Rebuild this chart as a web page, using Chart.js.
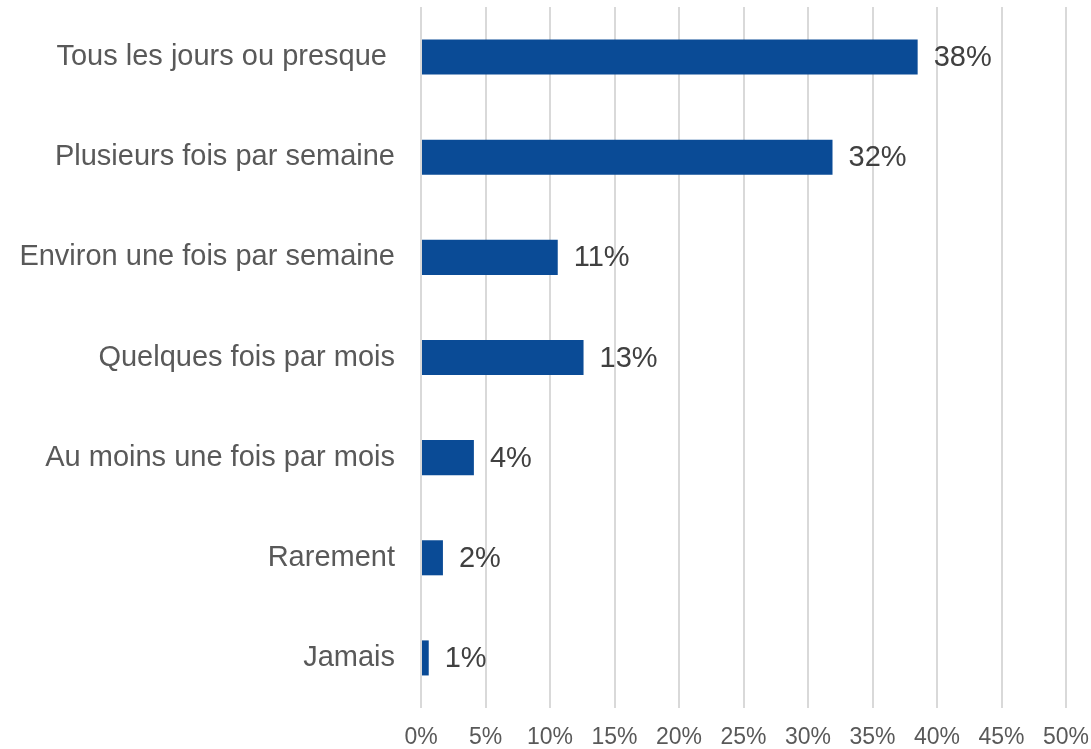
<!DOCTYPE html>
<html>
<head>
<meta charset="utf-8">
<script src="https://cdn.jsdelivr.net/npm/chart.js@4"></script>
<style>
  html, body { margin: 0; padding: 0; background: #fff; }
  #wrap { width: 1091px; height: 749px; }
</style>
</head>
<body>
<div id="wrap"><canvas id="chart"></canvas></div>
<script>
const categories = [
    'Tous les jours ou presque ',
    'Plusieurs fois par semaine',
    'Environ une fois par semaine',
    'Quelques fois par mois',
    'Au moins une fois par mois',
    'Rarement',
    'Jamais'
];
const shares = [38.5, 31.9, 10.6, 12.6, 4.1, 1.7, 0.6];
const shareLabels = ['38%', '32%', '11%', '13%', '4%', '2%', '1%'];

const FONT = '"Liberation Sans", Arial, sans-serif';

// draws the "38%" style labels at the end of each bar
const barValueLabels = {
    id: 'barValueLabels',
    afterDatasetsDraw(chart) {
        const ctx = chart.ctx;
        const meta = chart.getDatasetMeta(0);
        ctx.save();
        ctx.font = '29px ' + FONT;
        ctx.fillStyle = '#404040';
        ctx.textAlign = 'left';
        ctx.textBaseline = 'middle';
        meta.data.forEach((bar, i) => {
            ctx.fillText(shareLabels[i], bar.x + 16, bar.y + 1);
        });
        ctx.restore();
    }
};

const ctx = document.getElementById('chart').getContext('2d');
new Chart(ctx, {
    type: 'bar',
    data: {
        labels: categories,
        datasets: [{
            data: shares,
            backgroundColor: '#0a4b96',
            barPercentage: 0.35,
            categoryPercentage: 1
        }]
    },
    options: {
        indexAxis: 'y',
        responsive: true,
        maintainAspectRatio: false,
        animation: false,
        layout: { padding: { top: 7, right: 25, bottom: 0, left: 0 } },
        plugins: {
            legend: { display: false },
            tooltip: { enabled: false }
        },
        scales: {
            x: {
                min: 0,
                max: 50,
                ticks: {
                    stepSize: 5,
                    padding: 16,
                    color: '#595959',
                    font: { family: FONT, size: 23 },
                    callback: v => v + '%'
                },
                grid: { color: '#d9d9d9', lineWidth: 2, drawTicks: false },
                border: { display: false },
                afterFit: scale => {
                    scale.height = 41;
                    scale.paddingLeft = 0;
                    scale.paddingRight = 0;
                }
            },
            y: {
                ticks: {
                    padding: 26,
                    color: '#595959',
                    font: { family: FONT, size: 29 }
                },
                grid: { display: false, drawTicks: false },
                border: { display: false },
                afterFit: scale => {
                    scale.width = 421;
                    scale.paddingTop = 0;
                    scale.paddingBottom = 0;
                }
            }
        }
    },
    plugins: [barValueLabels]
});
</script>
</body>
</html>
